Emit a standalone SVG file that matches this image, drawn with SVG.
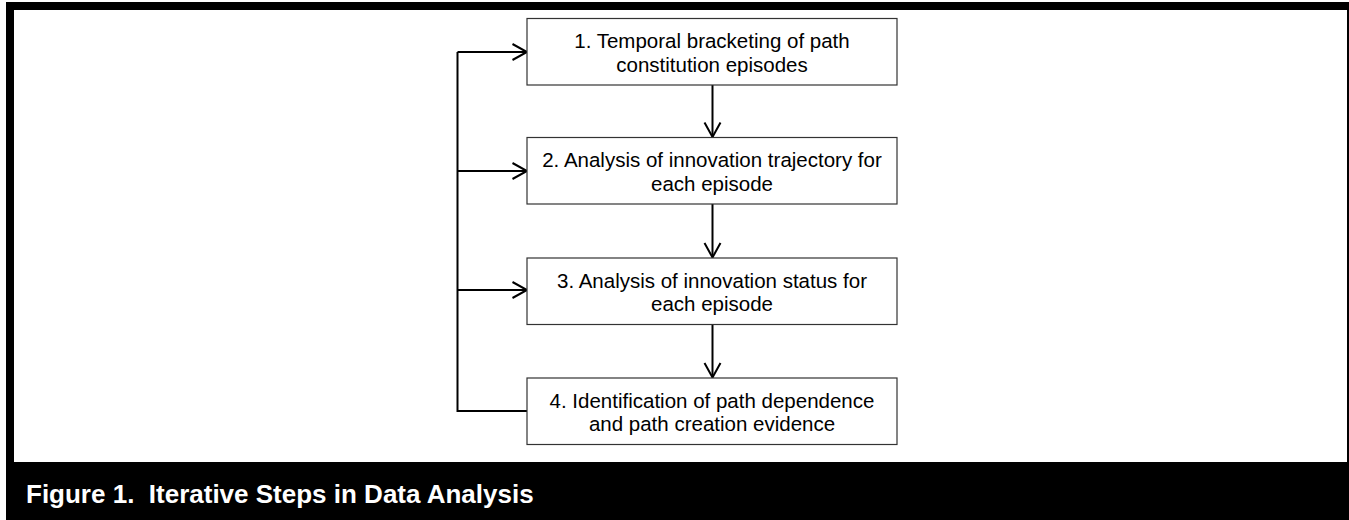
<svg xmlns="http://www.w3.org/2000/svg" width="1349" height="520" viewBox="0 0 1349 520">
<style>
.box{fill:#fff;stroke:#333;stroke-width:1.2}
.lbl{font-family:"Liberation Sans",Arial,sans-serif;font-size:20.5px;fill:#000;text-anchor:middle}
.con{fill:none;stroke:#000;stroke-width:2}
.cap{font-family:"Liberation Sans",Arial,sans-serif;font-size:26px;font-weight:bold;fill:#fff}
</style>
<defs>
<marker id="arr" markerUnits="userSpaceOnUse" markerWidth="20" markerHeight="20" viewBox="-16 -10 20 20" refX="0" refY="0" orient="auto">
<path d="M-14.5,-8 L0,0 L-14.5,8" fill="none" stroke="#000" stroke-width="2"/>
</marker>
</defs>
<rect x="6" y="2" width="1343" height="518" fill="#000"/>
<rect x="14" y="10" width="1333" height="452" fill="#fff"/>
<g id="connectors">
<path class="con" d="M527,411 H457.5 V52" />
<path class="con" d="M457.5,52 H527" marker-end="url(#arr)"/>
<path class="con" d="M457.5,171 H527" marker-end="url(#arr)"/>
<path class="con" d="M457.5,290 H527" marker-end="url(#arr)"/>
<path class="con" d="M712.5,85 V137" marker-end="url(#arr)"/>
<path class="con" d="M712.5,204 V257.5" marker-end="url(#arr)"/>
<path class="con" d="M712.5,324.5 V377.5" marker-end="url(#arr)"/>
</g>
<g id="node1">
<rect class="box" x="527" y="18.5" width="370" height="66.5"/>
<text class="lbl" x="712" y="48">1. Temporal bracketing of path</text>
<text class="lbl" x="712" y="71.5">constitution episodes</text>
</g>
<g id="node2">
<rect class="box" x="527" y="137.5" width="370" height="66.5"/>
<text class="lbl" x="712" y="167">2. Analysis of innovation trajectory for</text>
<text class="lbl" x="712" y="190.5">each episode</text>
</g>
<g id="node3">
<rect class="box" x="527" y="258" width="370" height="66.5"/>
<text class="lbl" x="712" y="287.5">3. Analysis of innovation status for</text>
<text class="lbl" x="712" y="311">each episode</text>
</g>
<g id="node4">
<rect class="box" x="527" y="378" width="370" height="66.5"/>
<text class="lbl" x="712" y="407.5">4. Identification of path dependence</text>
<text class="lbl" x="712" y="431">and path creation evidence</text>
</g>
<text id="caption" class="cap" x="26" y="503" xml:space="preserve">Figure 1.  Iterative Steps in Data Analysis</text>
</svg>
